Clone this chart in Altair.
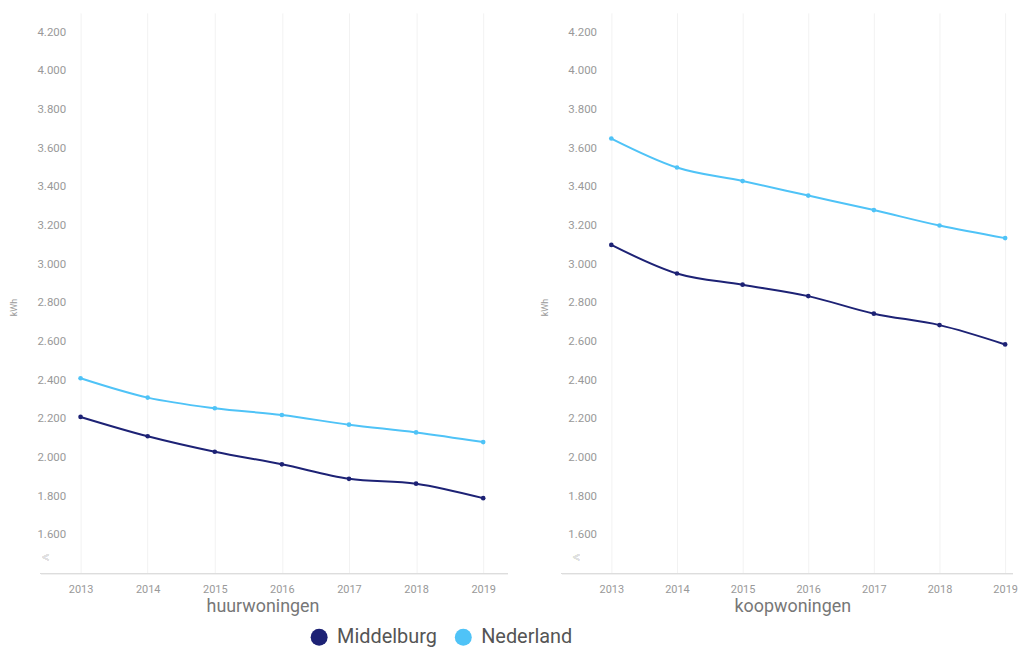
import altair as alt
import pandas as pd

years = [2013, 2014, 2015, 2016, 2017, 2018, 2019]
regions = ["Middelburg", "Nederland"]
panels = ["huurwoningen", "koopwoningen"]

huur_middelburg = [2210, 2110, 2030, 1965, 1890, 1865, 1790]
huur_nederland = [2410, 2310, 2255, 2220, 2170, 2130, 2080]
koop_middelburg = [3100, 2952, 2894, 2835, 2744, 2685, 2585]
koop_nederland = [3650, 3500, 3430, 3355, 3280, 3200, 3135]

y_ticks = [1600, 1800, 2000, 2200, 2400, 2600, 2800, 3000, 3200, 3400, 3600, 3800, 4000, 4200]

rows = []
for panel, mid, nl in [(panels[0], huur_middelburg, huur_nederland),
                       (panels[1], koop_middelburg, koop_nederland)]:
    for yr, m, n in zip(years, mid, nl):
        rows.append({"panel": panel, "jaar": yr, "regio": regions[0], "kWh": m})
        rows.append({"panel": panel, "jaar": yr, "regio": regions[1], "kWh": n})
df = pd.DataFrame(rows)

H = 564
FONT = "Roboto"

color = alt.Color(
    "regio:N",
    scale=alt.Scale(domain=regions, range=["#1d2275", "#4fc3f7"]),
    legend=alt.Legend(
        title=None, orient="none", direction="horizontal",
        legendX=240, legendY=618,
        symbolType="circle", symbolSize=290, symbolStrokeWidth=0,
        labelFontSize=20, labelColor="#555", labelFont=FONT,
        labelOffset=8, columnPadding=16,
    ),
)


def make_panel(name, width, domain, rule_start, title_x):
    sub = df[df.panel == name]
    x = alt.X(
        "jaar:Q",
        scale=alt.Scale(domain=domain, nice=False, zero=False),
        axis=alt.Axis(
            values=years, format="d", title=name, domain=False, ticks=False,
            grid=True, gridColor="#f2f2f2", labelColor="#999", labelFontSize=11,
            labelFont=FONT, labelPadding=10, titleFontSize=18, titleColor="#777",
            titleFont=FONT, titleFontWeight="normal", titlePadding=3, titleX=title_x,
        ),
    )
    y = alt.Y(
        "kWh:Q",
        scale=alt.Scale(domain=[1400, 4300], nice=False, zero=False),
        axis=alt.Axis(
            values=y_ticks, labelExpr="replace(format(datum.value, ','), ',', '.')",
            domain=False, ticks=False, grid=False, labelColor="#999",
            labelFontSize=11.5, labelFont=FONT, labelPadding=5,
            title="kWh", titleFontSize=9, titleColor="#999", titleFont=FONT,
            titleFontWeight="normal", titleX=-52, titleY=296,
        ),
    )
    base = alt.Chart(sub)
    lines = base.mark_line(interpolate="monotone", strokeWidth=2).encode(x=x, y=y, color=color)
    pts = base.mark_circle(size=22, opacity=1).encode(x=x, y=y, color=color)
    axis_line = base.mark_rule(color="#dddddd", strokeWidth=1).encode(
        x=alt.value(rule_start), x2=alt.value(width), y=alt.value(H)
    )
    brk = base.mark_text(text="<", color="#e0e0e0", fontSize=14, font=FONT).encode(
        x=alt.value(-25), y=alt.value(H - 16)
    )
    return alt.layer(axis_line, brk, lines, pts).properties(width=width, height=H)


left = make_panel(panels[0], 440, [2012.852, 2019.37], -30, 193)
right = make_panel(panels[1], 414, [2012.85, 2019.12], -40, 192)

chart = alt.hconcat(left, right, spacing=32).properties(
    padding={"left": 2, "top": 3, "right": 0, "bottom": 0}
).configure_view(stroke=None)

chart.save("out.html", embed_options={"renderer": "svg", "actions": False})
